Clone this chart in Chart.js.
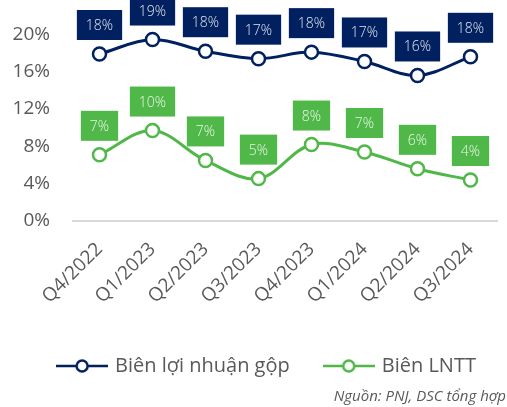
<!DOCTYPE html>
<html>
<head>
<meta charset="utf-8">
<script src="https://cdn.jsdelivr.net/npm/chart.js@4.4.1/dist/chart.umd.min.js"></script>
<style>
  html, body { margin: 0; padding: 0; background: #fff; }
  #wrap { width: 507px; height: 407px; }
</style>
</head>
<body>
<div id="wrap"><canvas id="chart" width="507" height="407"></canvas></div>
<script>
// quarters on the x axis
const quarters = ['Q4/2022', 'Q1/2023', 'Q2/2023', 'Q3/2023', 'Q4/2023', 'Q1/2024', 'Q2/2024', 'Q3/2024'];
// margins in %
const grossMargin = [17.9, 19.45, 18.2, 17.4, 18.1, 17.1, 15.6, 17.6];
const pretaxMargin = [7.1, 9.7, 6.5, 4.55, 8.2, 7.4, 5.6, 4.4];
const yTicks = [0, 4, 8, 12, 16, 20];

const navy = '#002060';
const green = '#50B848';
const grey = '#595959';
const fontFamily = '"Open Sans", "Noto Sans", sans-serif';

// little line+circle icon for the legend
function legendIcon(color) {
    const c = document.createElement('canvas');
    c.width = 52;
    c.height = 16;
    const g = c.getContext('2d');
    g.strokeStyle = color;
    g.lineWidth = 2.5;
    g.beginPath();
    g.moveTo(0, 8);
    g.lineTo(52, 8);
    g.stroke();
    g.fillStyle = '#fff';
    g.beginPath();
    g.arc(26, 8, 5.5, 0, Math.PI * 2);
    g.fill();
    g.stroke();
    return c;
}

// boxed value labels above each point
const boxLabels = {
    id: 'boxLabels',
    afterDatasetsDraw(chart) {
        const ctx = chart.ctx;
        ctx.save();
        ctx.font = '300 14px ' + fontFamily;
        ctx.textAlign = 'center';
        ctx.textBaseline = 'middle';
        chart.data.datasets.forEach((ds, di) => {
            const meta = chart.getDatasetMeta(di);
            meta.data.forEach((pt, i) => {
                const txt = Math.round(ds.data[i]) + '%';
                const w = ctx.measureText(txt).width + 18;
                const h = 30;
                const cy = pt.y - 29;
                ctx.fillStyle = ds.borderColor;
                ctx.fillRect(pt.x - w / 2, cy - h / 2, w, h);
                ctx.fillStyle = 'rgba(255,255,255,0.88)';
                ctx.fillText(txt, pt.x, cy + 1);
            });
        });
        ctx.restore();
    }
};

// legend sits a bit right of centre in the original
const legendShift = {
    id: 'legendShift',
    afterLayout(chart) {
        chart.legend.left += 10;
        chart.legend.right += 10;
    }
};

// source note, bottom right
const sourceNote = {
    id: 'sourceNote',
    afterDraw(chart) {
        const ctx = chart.ctx;
        ctx.save();
        ctx.font = 'italic 15px ' + fontFamily;
        ctx.fillStyle = grey;
        ctx.textAlign = 'right';
        ctx.textBaseline = 'middle';
        ctx.fillText('Nguồn: PNJ, DSC tổng hợp', chart.width - 1, chart.height - 10);
        ctx.restore();
    }
};

const ctx = document.getElementById('chart').getContext('2d');
new Chart(ctx, {
    type: 'line',
    data: {
        labels: quarters,
        datasets: [{
            label: 'Biên lợi nhuận gộp',
            data: grossMargin,
            borderColor: navy,
            backgroundColor: '#fff',
            borderWidth: 3,
            pointRadius: 6.5,
            pointBorderWidth: 2.5,
            pointBackgroundColor: '#fff',
            pointBorderColor: navy,
            tension: 0.35,
            clip: false
        }, {
            label: 'Biên LNTT',
            data: pretaxMargin,
            borderColor: green,
            backgroundColor: '#fff',
            borderWidth: 3,
            pointRadius: 6.5,
            pointBorderWidth: 2.5,
            pointBackgroundColor: '#fff',
            pointBorderColor: green,
            tension: 0.35,
            clip: false
        }]
    },
    options: {
        responsive: false,
        animation: false,
        devicePixelRatio: 1,
        layout: {
            padding: { top: 25, left: 8, right: 0, bottom: 21 }
        },
        plugins: {
            tooltip: { enabled: false },
            legend: {
                position: 'bottom',
                labels: {
                    usePointStyle: true,
                    pointStyleWidth: 46,
                    padding: 36,
                    color: grey,
                    font: { family: fontFamily, size: 20 },
                    generateLabels(chart) {
                        const items = Chart.defaults.plugins.legend.labels.generateLabels(chart);
                        items.forEach(it => {
                            it.pointStyle = legendIcon(chart.data.datasets[it.datasetIndex].borderColor);
                        });
                        return items;
                    }
                }
            }
        },
        scales: {
            x: {
                offset: true,
                grid: { display: false, drawTicks: false },
                border: { display: true, color: '#d9d9d9', width: 2 },
                ticks: {
                    color: grey,
                    font: { family: fontFamily, size: 19 },
                    minRotation: 45,
                    maxRotation: 45,
                    autoSkip: false,
                    padding: 17
                },
                afterFit(scale) {
                    scale.paddingLeft = 0;
                    scale.paddingRight = 10;
                    scale.height -= 5;
                }
            },
            y: {
                min: 0,
                max: 20,
                grid: { display: false, drawTicks: false },
                border: { display: false },
                afterBuildTicks(scale) {
                    scale.ticks = yTicks.map(v => ({ value: v }));
                },
                afterFit(scale) {
                    scale.width = 65;
                },
                ticks: {
                    color: grey,
                    font: { family: fontFamily, size: 19 },
                    padding: 23,
                    autoSkip: false,
                    callback: v => v + '%'
                }
            }
        }
    },
    plugins: [boxLabels, legendShift, sourceNote]
});
</script>
</body>
</html>
